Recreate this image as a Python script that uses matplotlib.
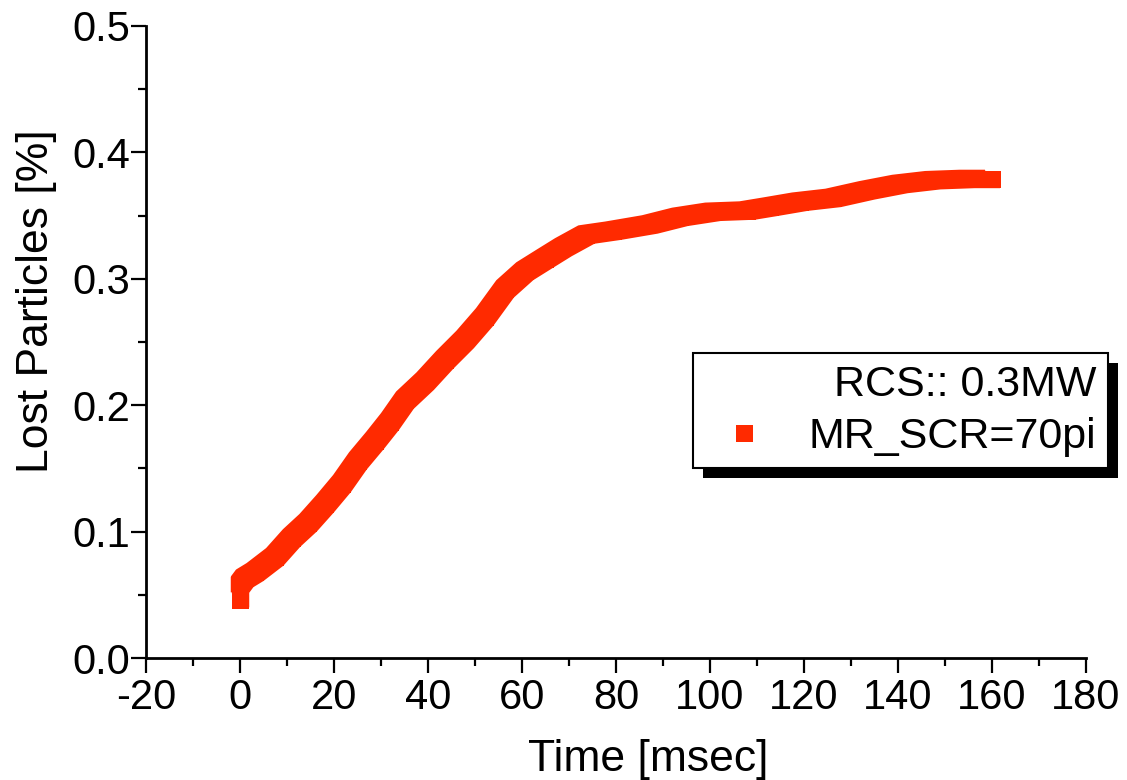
import numpy as np
import matplotlib
matplotlib.use('Agg')
import matplotlib.pyplot as plt
from matplotlib.patches import Rectangle
from matplotlib.transforms import IdentityTransform, offset_copy
from matplotlib.ticker import MultipleLocator, FormatStrFormatter

plt.rcParams['font.family'] = ['Liberation Sans', 'DejaVu Sans']
plt.rcParams['axes.unicode_minus'] = False

# data
time_ms = [0.0, 0.0, 0.0, 1.0, 3.2, 7.4, 11.0, 14.5, 18.1, 21.7, 25.1, 28.7,
           31.9, 35.1, 39.4, 43.6, 47.9, 52.1, 56.4, 60.6, 64.9, 68.8, 73.7,
           79.3, 87.2, 93.6, 100.6, 107.9, 112.8, 119.1, 126.2, 133.4, 140.4,
           147.4, 154.7, 160.1]
lost_pct = [0.046, 0.052, 0.058, 0.063, 0.068, 0.080, 0.095, 0.107, 0.122,
            0.138, 0.156, 0.172, 0.187, 0.204, 0.219, 0.236, 0.252, 0.270,
            0.292, 0.306, 0.316, 0.325, 0.335, 0.338, 0.343, 0.349, 0.353,
            0.354, 0.357, 0.361, 0.364, 0.370, 0.375, 0.378, 0.379, 0.379]

red = '#ff2a00'
sq = 17  # marker size in pixels

fig = plt.figure(figsize=(11.27, 7.80), dpi=100)
ax = fig.add_axes([146/1127, 1-658/780, (1086-146)/1127, (658-26)/780])

# dense square markers smear into a band: sweep the line across the square
for d in np.linspace(-sq/2 + 1, sq/2 - 1, 15):
    tr = offset_copy(ax.transData, fig=fig, x=d, y=-d, units='dots')
    ax.plot(time_ms, lost_pct, color=red, lw=2.5, transform=tr,
            solid_capstyle='butt', zorder=2)
ax.plot(time_ms, lost_pct, 's', color=red, ms=sq*72/100, mew=0, zorder=3,
        label='MR_SCR=70pi')

ax.set_xlim(-20, 180)
ax.set_ylim(0, 0.5)
ax.xaxis.set_major_locator(MultipleLocator(20))
ax.xaxis.set_minor_locator(MultipleLocator(10))
ax.yaxis.set_major_locator(MultipleLocator(0.1))
ax.yaxis.set_minor_locator(MultipleLocator(0.05))
ax.yaxis.set_major_formatter(FormatStrFormatter('%.1f'))

for s in ['top', 'right']:
    ax.spines[s].set_visible(False)
for s in ['left', 'bottom']:
    ax.spines[s].set_linewidth(2)
ax.tick_params(which='major', direction='out', length=10.5, width=1.6,
               labelsize=30)
ax.tick_params(which='minor', direction='out', length=5.5, width=1.6)
ax.tick_params(axis='x', which='major', pad=4)
ax.tick_params(axis='y', which='major', pad=1)

ax.set_xlabel('Time [msec]', fontsize=32, labelpad=15)
ax.set_ylabel('Lost Particles [%]', fontsize=32, labelpad=11)
ax.xaxis.label.set_x(0.534)
ax.yaxis.label.set_y(0.565)

leg = ax.legend(title='RCS:: 0.3MW', loc='upper left',
                bbox_to_anchor=(693/1127, 1-353/780),
                bbox_transform=fig.transFigure, borderaxespad=0,
                fontsize=31, title_fontsize=31, alignment='right',
                frameon=True, fancybox=False, framealpha=1,
                handletextpad=0.59, borderpad=0.27, labelspacing=0.28,
                handlelength=1.83)
leg.get_frame().set_edgecolor('black')
leg.get_frame().set_facecolor('white')
leg.get_frame().set_linewidth(1.5)
leg.set_zorder(5)

# black drop shadow behind the legend box
fig.canvas.draw()
bb = leg.get_window_extent()
shadow = Rectangle((bb.x0 + 10, bb.y0 - 10), bb.width, bb.height,
                   transform=IdentityTransform(), facecolor='black',
                   edgecolor='none', zorder=4.9, clip_on=False)
ax.add_artist(shadow)

fig.savefig('out.png', dpi=100)
